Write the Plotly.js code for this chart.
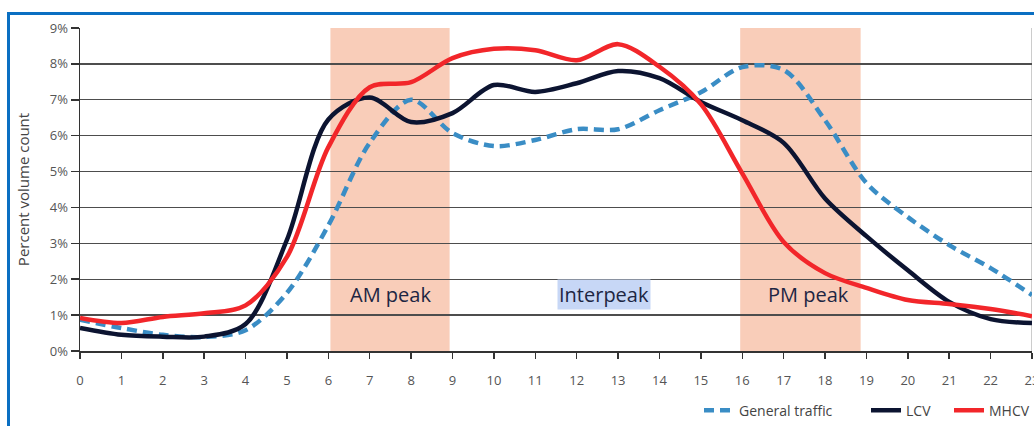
<!DOCTYPE html>
<html>
<head>
<meta charset="utf-8">
<script src="https://cdn.plot.ly/plotly-3.0.1.min.js"></script>
<style>
  html, body { margin: 0; padding: 0; background: #fff; }
  #wrap { position: relative; width: 1034px; height: 426px; overflow: hidden; }
  #chart { position: absolute; left: 0; top: 0; width: 1034px; height: 426px; }
  #frame { position: absolute; left: 7px; top: 12px; width: 1040px; height: 430px;
           border-top: 3px solid #0a6fc2; border-left: 3px solid #0a6fc2; pointer-events: none; }
</style>
</head>
<body>
<div id="wrap">
  <div id="chart"></div>
  <div id="frame"></div>
</div>
<script>
// Hour of day
const hours = [0,1,2,3,4,5,6,7,8,9,10,11,12,13,14,15,16,17,18,19,20,21,22,23];
// Percent volume count per hour
const generalTraffic = [0.87,0.64,0.45,0.39,0.58,1.62,3.5,5.8,7.0,6.07,5.71,5.88,6.18,6.18,6.71,7.21,7.91,7.83,6.43,4.68,3.73,2.95,2.31,1.56];
const lcv            = [0.64,0.45,0.40,0.40,0.75,3.10,6.45,7.06,6.38,6.63,7.41,7.22,7.46,7.80,7.60,6.94,6.43,5.80,4.25,3.20,2.25,1.37,0.89,0.78];
const mhcv           = [0.92,0.78,0.95,1.05,1.27,2.62,5.68,7.35,7.49,8.16,8.42,8.38,8.10,8.55,7.92,6.88,4.95,3.04,2.17,1.76,1.42,1.31,1.17,0.97];
const seriesNames = ["General traffic", "LCV", "MHCV"];
// Peak periods (hours)
const amPeak = [6.05, 8.93];
const pmPeak = [15.95, 18.86];
const periodLabels = ["AM peak", "Interpeak", "PM peak"];
const periodLabelX = [7.5, 12.65, 17.6];
const periodLabelY = [1.57, 1.57, 1.57];
const yTickVals = [0,1,2,3,4,5,6,7,8,9];
const yTickText = ["0%","1%","2%","3%","4%","5%","6%","7%","8%","9%"];

const font = "'Open Sans', 'Noto Sans', sans-serif";

const traces = [
  { x: hours, y: generalTraffic, name: seriesNames[0], type: "scatter", mode: "lines", legend: "legend",
    line: { color: "#3a8dc5", width: 4.5, dash: "10px,6px", shape: "spline", smoothing: 0.9 } },
  { x: hours, y: lcv, name: seriesNames[1], type: "scatter", mode: "lines", legend: "legend2",
    line: { color: "#0c1431", width: 4.5, shape: "spline", smoothing: 0.9 } },
  { x: hours, y: mhcv, name: seriesNames[2], type: "scatter", mode: "lines", legend: "legend3",
    line: { color: "#f2262a", width: 4.5, shape: "spline", smoothing: 0.9 } }
];

function leg(px) {
  return { orientation: "h", x: (px - 80) / 952, xanchor: "left", y: -0.185, yanchor: "middle",
           font: { family: font, size: 14, color: "#444" }, bgcolor: "rgba(0,0,0,0)", borderwidth: 0 };
}

const layout = {
  width: 1034, height: 426,
  margin: { l: 80, r: 2, t: 28, b: 75, autoexpand: false },
  paper_bgcolor: "#ffffff", plot_bgcolor: "#ffffff",
  font: { family: font, color: "#555" },
  showlegend: true,
  legend: leg(699),
  legend2: leg(866),
  legend3: leg(949),
  xaxis: {
    range: [0, 23], tickmode: "array", tickvals: hours, ticktext: hours.map(String),
    showgrid: false, zeroline: false, showline: true, linecolor: "#333", linewidth: 1.5,
    ticks: "outside", ticklen: 6, tickwidth: 1.5, tickcolor: "#333", ticklabeloverflow: "allow",
    automargin: false,
    tickfont: { family: font, size: 13, color: "#555" }, ticklabelstandoff: 11
  },
  yaxis: {
    range: [0, 9], tickmode: "array", tickvals: yTickVals, ticktext: yTickText,
    showgrid: true, gridcolor: "#4d4d4d", gridwidth: 1.3, zeroline: false,
    showline: true, linecolor: "#333", linewidth: 1.5, automargin: false,
    ticks: "outside", ticklen: 8, tickwidth: 1.5, tickcolor: "#333",
    tickfont: { family: font, size: 13, color: "#555" },
    title: { text: "Percent volume count", font: { family: font, size: 15, color: "#444" }, standoff: 16 }
  },
  shapes: [
    { type: "rect", xref: "x", yref: "y", x0: amPeak[0], x1: amPeak[1], y0: 0, y1: 9,
      fillcolor: "#f9cdb9", line: { width: 0 }, layer: "below" },
    { type: "rect", xref: "x", yref: "y", x0: pmPeak[0], x1: pmPeak[1], y0: 0, y1: 9,
      fillcolor: "#f9cdb9", line: { width: 0 }, layer: "below" },
    { type: "line", xref: "x", yref: "y", x0: 23, x1: 23, y0: 0, y1: 9,
      line: { color: "#999", width: 1 }, layer: "below" }
  ],
  annotations: [
    { x: periodLabelX[0], y: periodLabelY[0], xref: "x", yref: "y", text: periodLabels[0], showarrow: false,
      font: { family: font, size: 20, color: "#1d2643" } },
    { x: periodLabelX[1], y: periodLabelY[1], xref: "x", yref: "y", text: periodLabels[1], showarrow: false,
      font: { family: font, size: 20, color: "#1d2643" }, bgcolor: "#c7d7f6", borderpad: 1 },
    { x: periodLabelX[2], y: periodLabelY[2], xref: "x", yref: "y", text: periodLabels[2], showarrow: false,
      font: { family: font, size: 20, color: "#1d2643" } }
  ]
};

Plotly.newPlot("chart", traces, layout, { staticPlot: true, displayModeBar: false });
</script>
</body>
</html>
